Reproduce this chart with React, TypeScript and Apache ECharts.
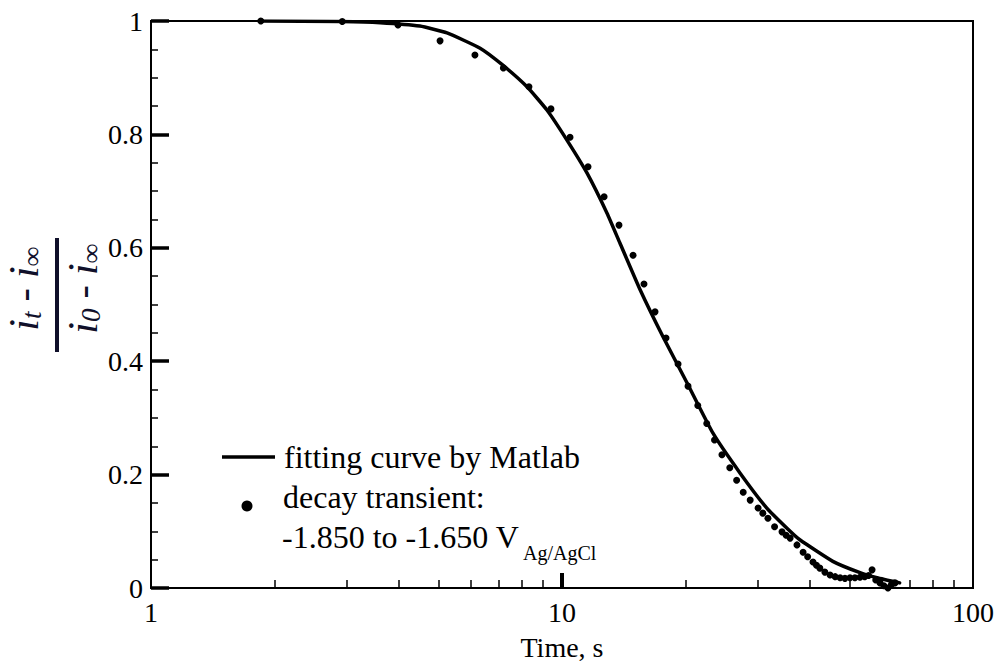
import React, { useEffect, useRef } from "react";
import * as echarts from "echarts";

// Measured decay transient (time in s, normalized current)
const dataT = [1.85, 2.92, 3.99, 5.05, 6.14, 7.2, 8.31, 9.4, 10.46, 11.57, 12.66, 13.76, 14.89, 15.83, 16.84, 17.91, 19.16, 20.26, 21.4, 22.5, 23.5, 24.5, 25.6, 26.6, 27.6, 28.7, 30.0, 30.8, 31.7, 32.9, 34.3, 35.1, 35.9, 37.3, 38.6, 39.6, 40.8, 41.6, 42.4, 43.6, 44.9, 46.2, 47.5, 48.8, 50.2, 51.6, 53.1, 54.5, 55.7, 56.8, 58.0, 59.4, 60.7, 62.1, 63.3, 64.6];
const dataY = [1.0, 0.999, 0.993, 0.965, 0.94, 0.917, 0.884, 0.845, 0.795, 0.743, 0.69, 0.64, 0.587, 0.536, 0.487, 0.441, 0.395, 0.356, 0.322, 0.29, 0.261, 0.235, 0.212, 0.19, 0.169, 0.155, 0.141, 0.132, 0.123, 0.108, 0.099, 0.093, 0.088, 0.076, 0.063, 0.055, 0.046, 0.04, 0.035, 0.028, 0.023, 0.02, 0.018, 0.017, 0.018, 0.018, 0.019, 0.02, 0.022, 0.032, 0.014, 0.009, 0.004, 0.0, 0.006, 0.009];

// Fitting curve by Matlab
const fitT = [1.85, 2.9, 3.61, 4.51, 5.25, 6.32, 7.18, 8.22, 9.19, 10.28, 11.5, 12.87, 13.84, 15.49, 17.61, 20.14, 23.3, 27.1, 31.5, 35.9, 37.9, 45.6, 53.1, 58.4, 66.3];
const fitY = [1.0, 0.999, 0.997, 0.991, 0.979, 0.952, 0.922, 0.884, 0.843, 0.79, 0.732, 0.661, 0.608, 0.526, 0.443, 0.362, 0.273, 0.203, 0.141, 0.1, 0.085, 0.047, 0.027, 0.018, 0.009];

// Axis ticks
const xMajorTicks = [10];
const xMinorTicks = [2, 3, 4, 5, 6, 7, 8, 9, 20, 30, 40, 50, 60, 70, 80, 90];

const legendLine1 = "fitting curve by Matlab";
const legendLine2 = "decay transient:";
const legendLine3 = "-1.850 to -1.650 V";
const legendSub = "Ag/AgCl";

const SERIF = "Liberation Serif, serif";
const INK = "#000";
const TITLE_INK = "#10102a";

export default function App() {
  const ref = useRef<HTMLDivElement>(null);

  useEffect(() => {
    if (!ref.current) return;
    const chart = echarts.init(ref.current, undefined, { renderer: "svg" });

    const scatterData = dataT.map((t, i) => [t, dataY[i]]);
    const fitData = fitT.map((t, i) => [t, fitY[i]]);

    const titleRich = {
      i: { fontSize: 43, fontStyle: "italic", fontFamily: SERIF, fill: TITLE_INK, lineHeight: 43 },
      s: { fontSize: 27, fontStyle: "italic", fontFamily: SERIF, fill: TITLE_INK, lineHeight: 15, verticalAlign: "bottom" },
      m: { fontSize: 40, fontFamily: SERIF, fill: TITLE_INK, lineHeight: 43 },
    };

    const textEl = (x: number, y: number, text: string, size: number) => ({
      type: "text",
      x,
      y,
      style: {
        text,
        fontSize: size,
        fontFamily: SERIF,
        fill: INK,
        align: "left",
        textAlign: "left",
        verticalAlign: "middle",
        textVerticalAlign: "middle",
      },
    });

    const option: any = {
      animation: false,
      backgroundColor: "#fff",
      textStyle: { fontFamily: SERIF },
      grid: {
        left: 151,
        right: 34,
        top: 21,
        bottom: 76,
        show: true,
        borderColor: INK,
        borderWidth: 2,
        backgroundColor: "transparent",
        containLabel: false,
        outerBoundsMode: "none",
      },
      xAxis: [
        {
          type: "log",
          logBase: 10,
          min: 1,
          max: 100,
          position: "bottom",
          name: "Time, s",
          nameLocation: "middle",
          nameGap: 45,
          nameTextStyle: { fontSize: 28, color: INK, fontFamily: SERIF },
          axisLine: { show: true, onZero: false, lineStyle: { color: INK, width: 2 } },
          axisTick: {
            show: true,
            inside: true,
            length: 15,
            customValues: xMajorTicks,
            lineStyle: { color: INK, width: 4 },
          },
          axisLabel: { fontSize: 28, color: INK, fontFamily: SERIF, margin: 10 },
          splitLine: { show: false },
          minorTick: { show: false },
        },
        {
          type: "log",
          logBase: 10,
          min: 1,
          max: 100,
          gridIndex: 0,
          position: "bottom",
          axisLine: { show: false, onZero: false },
          axisTick: {
            show: true,
            inside: true,
            length: 8,
            customValues: xMinorTicks,
            lineStyle: { color: INK, width: 1.5 },
          },
          axisLabel: { show: false },
          splitLine: { show: false },
        },
      ],
      yAxis: {
        type: "value",
        min: 0,
        max: 1,
        interval: 0.2,
        axisLine: { show: true, lineStyle: { color: INK, width: 2 } },
        axisTick: { show: true, inside: true, length: 18, lineStyle: { color: INK, width: 3.5 } },
        minorTick: { show: true, splitNumber: 4, length: 7, lineStyle: { color: INK, width: 1.5 } },
        axisLabel: { fontSize: 28, color: INK, fontFamily: SERIF, margin: 8 },
        splitLine: { show: false },
        minorSplitLine: { show: false },
      },
      series: [
        {
          name: "fit",
          type: "line",
          xAxisIndex: 0,
          data: fitData,
          showSymbol: false,
          smooth: 0.15,
          lineStyle: { color: INK, width: 3.5, join: "round", cap: "round" },
          z: 2,
        },
        {
          name: "data",
          type: "scatter",
          xAxisIndex: 0,
          data: scatterData,
          symbol: "circle",
          symbolSize: 7,
          itemStyle: { color: INK, opacity: 1 },
          z: 3,
        },
      ],
      graphic: [
        {
          type: "group",
          x: 57,
          y: 295,
          rotation: Math.PI / 2,
          children: [
            {
              type: "line",
              shape: { x1: -57, y1: 0, x2: 57, y2: 0 },
              style: { stroke: TITLE_INK, lineWidth: 4 },
            },
            {
              type: "text",
              x: 6,
              y: -12,
              style: {
                text: "{i|i}{s|t}{m| - }{i|i}{s|\u221e}",
                rich: titleRich,
                align: "center",
                textAlign: "center",
                verticalAlign: "bottom",
                textVerticalAlign: "bottom",
              },
            },
            {
              type: "text",
              x: 6,
              y: 4,
              style: {
                text: "{i|i}{s|0}{m| - }{i|i}{s|\u221e}",
                rich: titleRich,
                align: "center",
                textAlign: "center",
                verticalAlign: "top",
                textVerticalAlign: "top",
              },
            },
          ],
        },
        {
          type: "line",
          shape: { x1: 222, y1: 457, x2: 275, y2: 457 },
          style: { stroke: INK, lineWidth: 3.5 },
        },
        textEl(284, 457, legendLine1, 32),
        {
          type: "circle",
          shape: { cx: 247, cy: 506, r: 5.5 },
          style: { fill: INK },
        },
        textEl(283, 497, legendLine2, 32),
        textEl(282, 537, legendLine3, 32),
        textEl(523, 553, legendSub, 20),
      ],
    };

    chart.setOption(option);
    return () => {
      chart.dispose();
    };
  }, []);

  return (
    <div
      ref={ref}
      style={{ position: "fixed", left: 0, top: 0, width: 1007, height: 664, background: "#fff" }}
    />
  );
}
